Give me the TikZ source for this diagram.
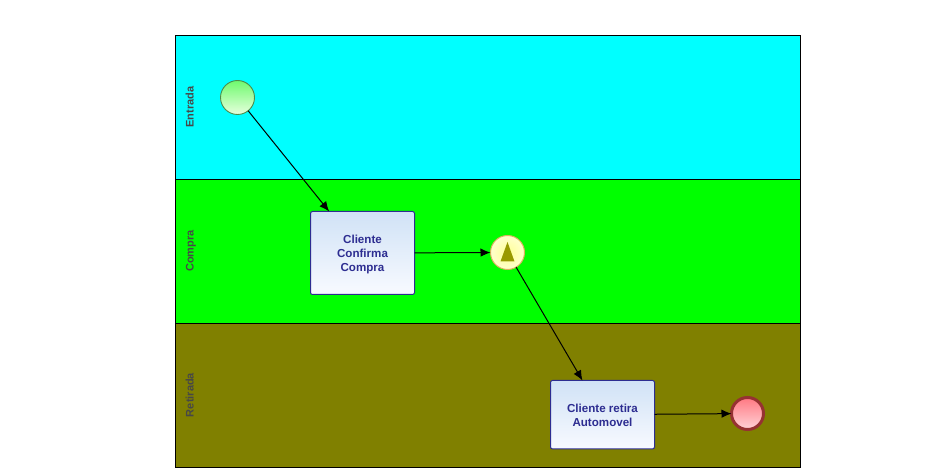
\documentclass[tikz,border=0pt]{standalone}
\usepackage{fontspec}
\setmainfont{Liberation Sans}
\usetikzlibrary{arrows.meta}
\definecolor{lanecyan}{RGB}{0,255,255}
\definecolor{lanegreen}{RGB}{0,255,0}
\definecolor{laneolive}{RGB}{128,128,0}
\definecolor{taskblue}{RGB}{45,45,145}
\definecolor{tasktop}{RGB}{208,226,246}
\definecolor{taskbot}{RGB}{248,250,255}
\definecolor{startline}{RGB}{75,140,75}
\definecolor{starttop}{RGB}{110,250,110}
\definecolor{startbot}{RGB}{232,255,222}
\definecolor{gateline}{RGB}{215,180,90}
\definecolor{gatein}{RGB}{255,255,150}
\definecolor{gateout}{RGB}{255,255,205}
\definecolor{gatemark}{RGB}{153,153,0}
\definecolor{endline}{RGB}{150,50,50}
\definecolor{endtop}{RGB}{255,120,130}
\definecolor{endbot}{RGB}{255,212,216}
\tikzset{
  lanebox/.style={draw=black,line width=1pt,minimum width=625pt,minimum height=144pt,inner sep=0pt,outer sep=0pt},
  lanelabel/.style={rotate=90,anchor=base,text=black!72,font=\fontsize{11}{12}\selectfont\bfseries,inner sep=0pt},
  taskbox/.style={draw=taskblue,line width=1pt,rounded corners=2pt,top color=tasktop,bottom color=taskbot,text=taskblue,
    font=\fontsize{11.6}{14}\selectfont\bfseries,minimum width=104pt,inner sep=0pt,outer sep=0pt},
  startev/.style={circle,draw=startline,line width=.9pt,top color=starttop,bottom color=startbot,minimum size=34pt,inner sep=0pt,outer sep=0pt},
  gateev/.style={circle,draw=gateline,line width=1pt,inner color=gatein,outer color=gateout,minimum size=34pt,inner sep=0pt,outer sep=0pt},
  endev/.style={circle,draw=endline,line width=3pt,top color=endtop,bottom color=endbot,minimum size=32pt,inner sep=0pt,outer sep=0pt},
  flow/.style={draw=black,line width=1pt,-{Latex[length=10pt,width=8.5pt]}}
}
\begin{document}
\begin{tikzpicture}[x=1pt,y=-1pt]
\useasboundingbox[fill=white] (0,0) rectangle (938,473);
\node[lanebox,fill=lanecyan] (laneA) at (488,107.5) {};
\node[lanebox,fill=lanegreen] (laneB) at (488,251.5) {};
\node[lanebox,fill=laneolive] (laneC) at (488,395.5) {};
\node[lanelabel] (lblA) at (193.5,107) {Entrada};
\node[lanelabel] (lblB) at (193.5,251) {Compra};
\node[lanelabel] (lblC) at (193.5,395) {Retirada};
\node[startev] (start) at (237.5,97.5) {};
\node[taskbox,minimum height=83pt] (task1) at (362.5,253) {\parbox{100pt}{\centering\vspace*{4pt}Cliente\\Confirma\\Compra}};
\node[gateev] (gate) at (507.5,252.5) {};
\fill[fill=gatemark] (507.5,242) -- (514.5,261.5) -- (500.5,261.5) -- cycle;
\node[taskbox,minimum height=68.5pt] (task2) at (602.5,414.7) {\parbox{100pt}{\centering\vspace*{2pt}Cliente retira\\Automovel}};
\node[endev] (end) at (747.5,413.5) {};
\draw[flow] (start) -- (task1);
\draw[flow] (task1) -- (gate);
\draw[flow] (gate) -- (task2);
\draw[flow] (task2) -- (end);
\end{tikzpicture}
\end{document}
